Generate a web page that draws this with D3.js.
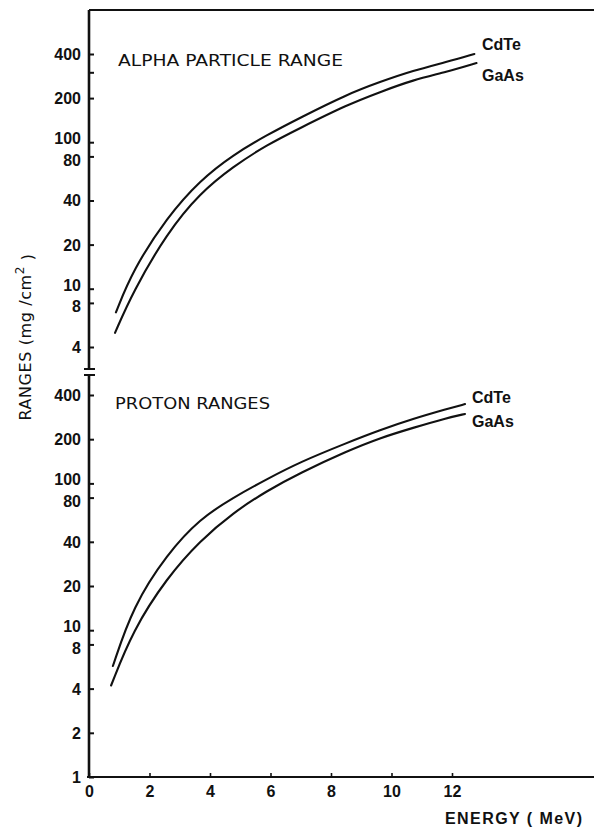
<!DOCTYPE html>
<html>
<head>
<meta charset="utf-8">
<script src="https://cdn.jsdelivr.net/npm/d3@7"></script>
<style>
  body { margin: 0; background: #fff; }
  svg { display: block; }
  text { font-family: "Liberation Sans", Arial, sans-serif; fill: #111; }
</style>
</head>
<body>
<svg id="chart" width="594" height="829"></svg>
<script>
// Energy axis (MeV)
const energyTicks = [0, 2, 4, 6, 8, 10, 12];

// Range axis ticks for the two panels (mg/cm^2)
const alphaTicks = [4, 8, 10, 20, 40, 80, 100, 200, 300, 400];
const alphaTickLabels = ["4", "8", "10", "20", "40", "80", "100", "200", "", "400"];
const protonTicks = [1, 2, 4, 8, 10, 20, 40, 80, 100, 200, 400];
const protonTickLabels = ["1", "2", "4", "8", "10", "20", "40", "80", "100", "200", "400"];

// Alpha particle ranges
const alphaCdTeE = [0.89, 1.45, 2.58, 3.67, 4.76, 5.88, 6.98, 8.53, 9.62, 10.71, 11.83, 12.74];
const alphaCdTeR = [6.9, 13.4, 30.8, 55, 82, 112, 147, 212, 258, 308, 353, 400];
const alphaGaAsE = [0.86, 1.45, 2.58, 3.67, 4.76, 5.88, 6.98, 8.53, 9.62, 10.71, 11.83, 12.81];
const alphaGaAsR = [5.0, 9.5, 24, 45, 68, 96, 125, 180, 220, 266, 302, 347];

// Proton ranges
const protonCdTeE = [0.79, 1.45, 2.58, 3.67, 4.76, 5.88, 6.98, 8.53, 9.62, 10.71, 11.83, 12.43];
const protonCdTeR = [5.7, 14.5, 33, 57.5, 80, 107, 140, 189, 231, 275, 321, 347];
const protonGaAsE = [0.73, 1.45, 2.58, 3.67, 4.76, 5.88, 6.98, 8.53, 9.62, 10.71, 11.83, 12.43];
const protonGaAsR = [4.2, 10, 22.8, 40.7, 63, 89, 118, 166, 204, 239, 279, 297];

const materials = ["CdTe", "GaAs"];

const svg = d3.select("#chart");
const W = 594;

const axisX = 89;
const x = d3.scaleLinear().domain([0, 12]).range([axisX, 452]);
const yAlpha = d3.scaleLog().domain([4, 400]).range([347, 54]);
const yProton = d3.scaleLog().domain([1, 400]).range([777, 395]);

const frameTop = 10, breakTop = 369, breakBottom = 375, baseY = 777;

// Frame: left axis with a break between the panels, top rule and energy axis
const frame = svg.append("g").attr("stroke", "#111").attr("fill", "none");
frame.append("line").attr("x1", axisX).attr("x2", axisX).attr("y1", frameTop).attr("y2", breakTop).attr("stroke-width", 2.6);
frame.append("line").attr("x1", axisX).attr("x2", axisX).attr("y1", breakBottom).attr("y2", baseY).attr("stroke-width", 2.6);
frame.append("line").attr("x1", axisX - 5).attr("x2", axisX + 6).attr("y1", breakTop).attr("y2", breakTop).attr("stroke-width", 2);
frame.append("line").attr("x1", axisX - 5).attr("x2", axisX + 6).attr("y1", breakBottom).attr("y2", breakBottom).attr("stroke-width", 2);
frame.append("line").attr("x1", axisX).attr("x2", W).attr("y1", frameTop).attr("y2", frameTop).attr("stroke-width", 2);
frame.append("line").attr("x1", axisX - 2).attr("x2", W).attr("y1", baseY).attr("y2", baseY).attr("stroke-width", 2.2);

function yAxis(scale, ticks, labels) {
  const g = svg.append("g").attr("transform", `translate(${axisX},0)`)
    .call(d3.axisLeft(scale)
      .tickValues(ticks)
      .tickFormat((d, i) => labels[i])
      .tickSizeInner(-5)
      .tickSizeOuter(0)
      .tickPadding(8));
  g.select(".domain").remove();
  g.selectAll(".tick line").attr("stroke", "#111").attr("stroke-width", 2);
  g.selectAll(".tick text")
    .style("font-family", '"Liberation Sans", Arial, sans-serif')
    .style("font-size", "16px")
    .style("font-weight", "bold")
    .attr("fill", "#111")
    .attr("dy", d => (d === 100 || d === 10) ? "0.1em" : (d === 80 || d === 8) ? "0.55em" : "0.34em");
  return g;
}
yAxis(yAlpha, alphaTicks, alphaTickLabels);
yAxis(yProton, protonTicks, protonTickLabels);

const xg = svg.append("g").attr("transform", `translate(0,${baseY})`)
  .call(d3.axisBottom(x)
    .tickValues(energyTicks)
    .tickFormat(d3.format("d"))
    .tickSizeInner(-4)
    .tickSizeOuter(0)
    .tickPadding(9));
xg.select(".domain").remove();
xg.selectAll(".tick line").attr("stroke", "#111").attr("stroke-width", 1.6);
xg.selectAll(".tick text")
  .style("font-family", '"Liberation Sans", Arial, sans-serif')
  .style("font-size", "16px")
  .style("font-weight", "bold")
  .attr("fill", "#111");

// Curves
const panels = [
  { y: yAlpha, series: [[alphaCdTeE, alphaCdTeR], [alphaGaAsE, alphaGaAsR]] },
  { y: yProton, series: [[protonCdTeE, protonCdTeR], [protonGaAsE, protonGaAsR]] }
];
panels.forEach(p => {
  const line = d3.line()
    .x(d => x(d[0]))
    .y(d => p.y(d[1]))
    .curve(d3.curveBasis);
  p.series.forEach(([es, rs]) => {
    svg.append("path")
      .datum(d3.zip(es, rs))
      .attr("d", line)
      .attr("fill", "none")
      .attr("stroke", "#111")
      .attr("stroke-width", 2.1)
      .attr("stroke-linecap", "round");
  });
});

// Curve labels
const labelStyle = sel => sel
  .style("font-size", "16px")
  .style("font-weight", "bold")
  .attr("dominant-baseline", "central");
svg.append("text").attr("x", 482).attr("y", 44).text(materials[0]).call(labelStyle);
svg.append("text").attr("x", 482).attr("y", 75).text(materials[1]).call(labelStyle);
svg.append("text").attr("x", 472).attr("y", 397).text(materials[0]).call(labelStyle);
svg.append("text").attr("x", 472).attr("y", 421).text(materials[1]).call(labelStyle);

// Panel titles
const titleFont = '"DejaVu Sans", "Liberation Sans", sans-serif';
svg.append("text").attr("x", 118).attr("y", 61)
  .attr("dominant-baseline", "central")
  .attr("textLength", 225).attr("lengthAdjust", "spacingAndGlyphs")
  .style("font-family", titleFont)
  .style("font-size", "15px")
  .text("ALPHA PARTICLE RANGE");
svg.append("text").attr("x", 115).attr("y", 404)
  .attr("dominant-baseline", "central")
  .attr("textLength", 155).attr("lengthAdjust", "spacingAndGlyphs")
  .style("font-family", titleFont)
  .style("font-size", "15px")
  .text("PROTON RANGES");

// Axis titles
svg.append("text").attr("x", 445).attr("y", 818)
  .attr("dominant-baseline", "central")
  .attr("textLength", 137).attr("lengthAdjust", "spacing")
  .style("font-size", "16px").style("font-weight", "bold")
  .text("ENERGY ( MeV)");

const yl = svg.append("text")
  .attr("transform", "translate(25,337) rotate(-90)")
  .attr("text-anchor", "middle")
  .attr("dominant-baseline", "central")
  .style("font-family", titleFont)
  .style("font-size", "16px")
  .style("letter-spacing", "0.6px");
yl.append("tspan").text("RANGES  (mg /cm");
yl.append("tspan").attr("dy", "-0.45em").style("font-size", "12px").text("2");
yl.append("tspan").attr("dy", "0.45em").text(" )");
</script>
</body>
</html>
